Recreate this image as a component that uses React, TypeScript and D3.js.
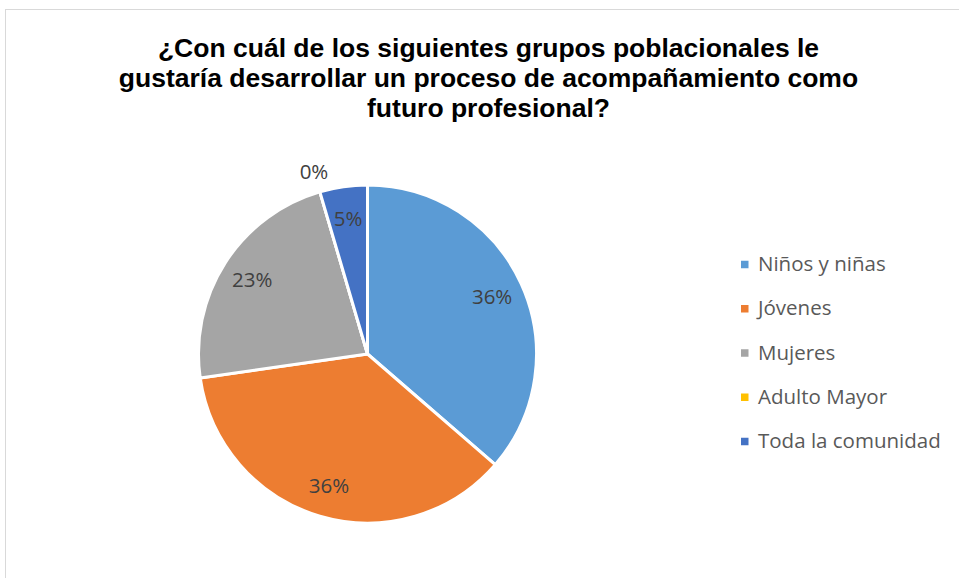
import React from "react";
import * as d3 from "d3";

const categories = ["Niños y niñas", "Jóvenes", "Mujeres", "Adulto Mayor", "Toda la comunidad"];
const counts = [8, 8, 5, 0, 1];
const colors = ["#5B9BD5", "#ED7D31", "#A5A5A5", "#FFC000", "#4472C4"];
const titleLines = [
  "¿Con cuál de los siguientes grupos poblacionales le",
  "gustaría desarrollar un proceso de acompañamiento como",
  "futuro profesional?",
];

const W = 959;
const H = 578;

export default function App() {
  const cx = 367.5;
  const cy = 354;
  const R = 169;
  const total = d3.sum(counts);
  const pie = d3.pie<number>().sort(null).value((d) => d);
  const arcs = pie(counts);
  const arc = d3.arc<d3.PieArcDatum<number>>().innerRadius(0).outerRadius(R);
  const labelArc = d3.arc<d3.PieArcDatum<number>>().innerRadius(137).outerRadius(137);
  const outerLabelArc = d3.arc<d3.PieArcDatum<number>>().innerRadius(190).outerRadius(190);
  const fmt = d3.format(".0%");
  const legendY = d3.scalePoint<string>().domain(categories).range([264.5, 441.5]);

  return (
    <div style={{ position: "absolute", left: 0, top: 0 }}>
      <svg width={W} height={H} style={{ display: "block" }}>
        <rect x={0} y={0} width={W} height={H} fill="#ffffff" />
        <rect x={5.5} y={9.5} width={W + 10} height={H + 10} fill="none" stroke="#d9d9d9" strokeWidth={1} />
        <g fontFamily="'Liberation Sans', Arial, sans-serif" fontWeight="bold" fontSize={26.5} fill="#000" textAnchor="middle">
          {titleLines.map((t, i) => (
            <text key={i} x={488.5} y={57 + i * 30}>{t}</text>
          ))}
        </g>
        <g transform={`translate(${cx},${cy})`}>
          {arcs.map((a, i) => (
            <path key={i} d={arc(a) || ""} fill={colors[i]} stroke="#ffffff" strokeWidth={3} strokeLinejoin="round" />
          ))}
          {arcs.map((a, i) => {
            const c = a.value === 0 ? outerLabelArc.centroid(a) : labelArc.centroid(a);
            return (
              <text key={"l" + i} x={c[0]} y={c[1]} dy="0.36em" textAnchor="middle"
                fontFamily="'Open Sans', sans-serif" fontSize={20.5} fill="#404040">
                {fmt(a.value / total)}
              </text>
            );
          })}
        </g>
        <g fontFamily="'Open Sans', sans-serif" fontSize={20.5} fill="#595959">
          {categories.map((c, i) => (
            <g key={c} transform={`translate(741,${legendY(c)})`}>
              <rect x={0} y={-3.75} width={7.5} height={7.5} fill={colors[i]} />
              <text x={17} y={6.5}>{c}</text>
            </g>
          ))}
        </g>
      </svg>
    </div>
  );
}
